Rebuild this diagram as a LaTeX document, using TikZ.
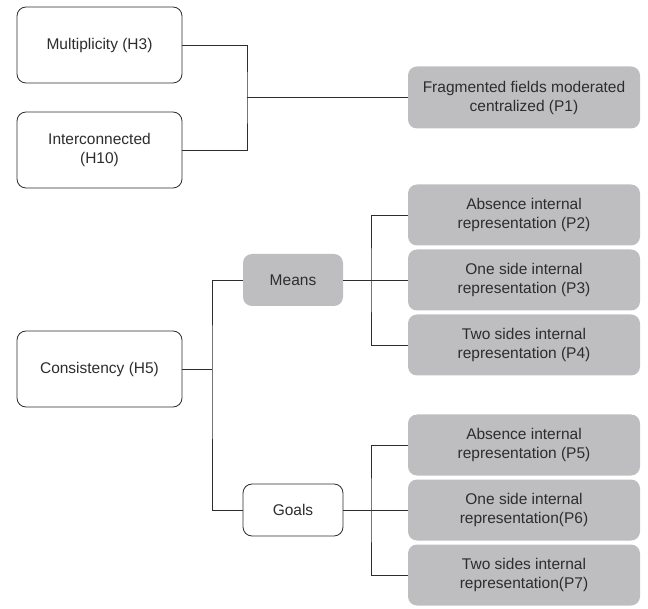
\documentclass[tikz,border=0pt]{standalone}
\usepackage{fontspec}
\setmainfont{Liberation Sans}
\usetikzlibrary{positioning}
\definecolor{boxgray}{RGB}{190,190,193}
\definecolor{ink}{RGB}{45,45,45}
\tikzset{
base/.style={rounded corners=9pt, align=center, outer sep=0pt, text=ink, font=\fontsize{15.5}{19}\selectfont},
hyp/.style={base, draw=ink, fill=white, line width=0.8pt, minimum width=165pt, minimum height=76pt},
prop/.style={base, fill=boxgray, minimum width=232pt, minimum height=61pt},
kind/.style={base, minimum width=100pt, minimum height=52pt},
link/.style={draw=ink, line width=0.8pt}
}

\begin{document}
\begin{tikzpicture}[x=1pt, y=-1pt]
\useasboundingbox (0,0) rectangle (648,609);
\node[hyp] (H3) at (99.5,45) {Multiplicity (H3)};
\node[hyp] (H10) at (99.5,150) {Interconnected\\(H10)};
\node[prop, minimum height=62pt] (P1) at (524,97.5) {Fragmented fields moderated\\centralized (P1)};
\node[hyp] (H5) at (99.5,369) {Consistency (H5)};
\node[kind, fill=boxgray] (means) at (293,280) {Means};
\node[kind, draw=ink, fill=white, line width=0.8pt] (goals) at (293,510) {Goals};
\node[prop] (P2) at (524,215) {Absence internal\\representation (P2)};
\node[prop, below=4pt of P2] (P3) {One side internal\\representation (P3)};
\node[prop, below=4pt of P3] (P4) {Two sides internal\\representation (P4)};
\node[prop] (P5) at (524,445) {Absence internal\\representation (P5)};
\node[prop, below=4pt of P5] (P6) {One side internal\\representation(P6)};
\node[prop, below=4pt of P6] (P7) {Two sides internal\\representation(P7)};
\coordinate (j1) at (247,97.5);
\coordinate (j2) at (212,369);
\coordinate[right=28pt of means.east] (j3);
\coordinate[right=28pt of goals.east] (j4);
\draw[link] (H3.east) -| (j1) |- (H10.east);
\draw[link] (j1) -- (P1.west);
\draw[link] (means.west) -| (j2) |- (goals.west);
\draw[link] (H5.east) -- (j2);
\draw[link] (P2.west) -| (j3) |- (P4.west);
\draw[link] (means.east) -- (P3.west);
\draw[link] (P5.west) -| (j4) |- (P7.west);
\draw[link] (goals.east) -- (P6.west);
\end{tikzpicture}
\end{document}
